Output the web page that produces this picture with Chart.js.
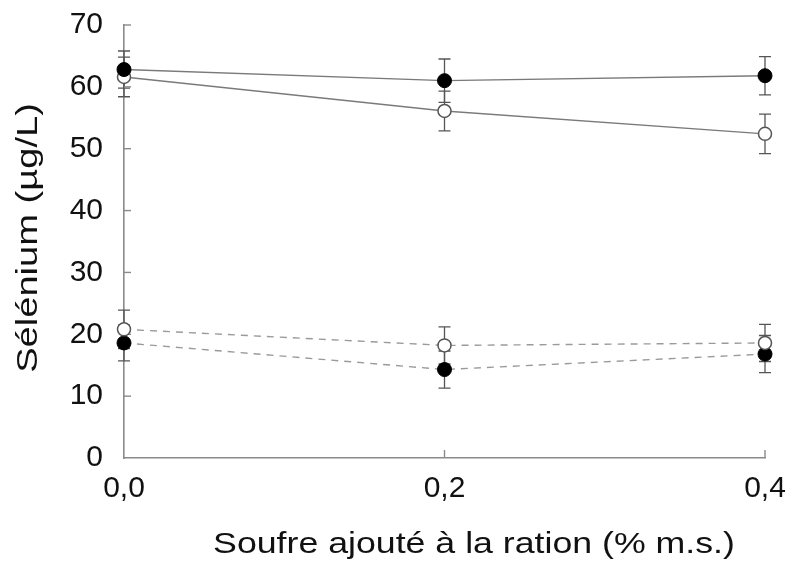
<!DOCTYPE html>
<html lang="fr">
<head>
    <meta charset="UTF-8">
    <title>Sélénium</title>
    <script src="https://cdn.jsdelivr.net/npm/chart.js"></script>
    <style>
        body { margin: 0; background: #fff; }
    </style>
</head>
<body>
    <div style="width: 788px; height: 562px;">
        <canvas id="seChart" width="788" height="562"></canvas>
    </div>

    <script>
        // Soufre ajouté (% m.s.)
        const doses = [0, 0.2, 0.4];
        const yTicks = [0, 10, 20, 30, 40, 50, 60, 70];

        // Series values (µg/L) and standard errors
        const filledSolid = [62.8, 61.0, 61.8];
        const filledSolidErr = [3.0, 3.5, 3.1];
        const openSolid = [61.6, 56.1, 52.4];
        const openSolidErr = [3.2, 3.2, 3.2];
        const openDashed = [20.8, 18.2, 18.6];
        const openDashedErr = [3.1, 3.0, 3.0];
        const filledDashed = [18.6, 14.3, 16.8];
        const filledDashedErr = [2.9, 3.0, 3.0];

        const xTitle = 'Soufre ajouté à la ration (% m.s.)';
        const yTitle = 'Sélénium (µg/L)';

        const font = "'Liberation Sans', Arial, Helvetica, sans-serif";
        const axisGrey = '#8a8a8a';

        function pts(values) {
            return doses.map((d, i) => ({ x: d, y: values[i] }));
        }

        function series(values, errors, filled, dashed) {
            return {
                data: pts(values),
                errors: errors,
                borderColor: dashed ? '#9a9a9a' : '#7a7a7a',
                borderWidth: 1.4,
                borderDash: dashed ? [7, 6] : [],
                pointRadius: filled ? 7 : 6.5,
                pointBackgroundColor: filled ? '#000' : '#fff',
                pointBorderColor: filled ? '#000' : '#555',
                pointBorderWidth: filled ? 1 : 1.5,
                tension: 0,
                clip: false
            };
        }

        // Error bars, inward axis ticks and the (wide) axis titles
        const extras = {
            id: 'extras',
            beforeDatasetsDraw(chart) {
                const ctx = chart.ctx;
                const xs = chart.scales.x, ys = chart.scales.y;
                ctx.save();
                ctx.strokeStyle = '#555';
                ctx.lineWidth = 1.3;
                chart.data.datasets.forEach(ds => {
                    ds.data.forEach((p, i) => {
                        const e = ds.errors[i];
                        const px = xs.getPixelForValue(p.x);
                        const top = ys.getPixelForValue(p.y + e);
                        const bot = ys.getPixelForValue(p.y - e);
                        ctx.beginPath();
                        ctx.moveTo(px, top); ctx.lineTo(px, bot);
                        ctx.moveTo(px - 6, top); ctx.lineTo(px + 6, top);
                        ctx.moveTo(px - 6, bot); ctx.lineTo(px + 6, bot);
                        ctx.stroke();
                    });
                });
                // inward ticks
                ctx.strokeStyle = axisGrey;
                ctx.lineWidth = 1.4;
                const left = chart.chartArea.left, bottom = chart.chartArea.bottom;
                yTicks.slice(1).forEach(v => {
                    const py = ys.getPixelForValue(v);
                    ctx.beginPath();
                    ctx.moveTo(left, py); ctx.lineTo(left + 7, py);
                    ctx.stroke();
                });
                doses.slice(1).forEach(v => {
                    const px = xs.getPixelForValue(v);
                    ctx.beginPath();
                    ctx.moveTo(px, bottom); ctx.lineTo(px, bottom - 8);
                    ctx.stroke();
                });
                ctx.restore();
            },
            afterDraw(chart) {
                const ctx = chart.ctx;
                ctx.save();
                ctx.fillStyle = '#111';
                ctx.font = '30px ' + font;
                ctx.textAlign = 'center';
                ctx.textBaseline = 'middle';
                // x title
                ctx.save();
                ctx.translate(474, 545);
                ctx.scale(1.19, 1);
                ctx.fillText(xTitle, 0, 0);
                ctx.restore();
                // y title
                ctx.save();
                ctx.translate(29, 238);
                ctx.rotate(-Math.PI / 2);
                ctx.scale(1.27, 1);
                ctx.fillText(yTitle, 0, 0);
                ctx.restore();
                ctx.restore();
            }
        };

        const ctx = document.getElementById('seChart').getContext('2d');
        new Chart(ctx, {
            type: 'line',
            data: {
                datasets: [
                    series(filledSolid, filledSolidErr, true, false),
                    series(openSolid, openSolidErr, false, false),
                    series(openDashed, openDashedErr, false, true),
                    series(filledDashed, filledDashedErr, true, true)
                ]
            },
            options: {
                responsive: false,
                animation: false,
                layout: { padding: { top: 25, right: 23, left: 0, bottom: 0 } },
                plugins: {
                    legend: { display: false },
                    tooltip: { enabled: false }
                },
                scales: {
                    x: {
                        type: 'linear',
                        min: 0,
                        max: 0.4,
                        afterFit: s => { s.height = 104; s.paddingLeft = 0; s.paddingRight = 0; },
                        afterBuildTicks: s => { s.ticks = doses.map(v => ({ value: v })); },
                        grid: { display: true, drawOnChartArea: false, drawTicks: false },
                        border: { color: axisGrey, width: 1.6 },
                        ticks: {
                            padding: 13,
                            color: '#111',
                            font: { family: font, size: 30 },
                            callback: v => v.toFixed(1).replace('.', ',')
                        }
                    },
                    y: {
                        min: 0,
                        max: 70,
                        afterFit: s => { s.width = 124; s.paddingTop = 0; s.paddingBottom = 0; },
                        afterBuildTicks: s => { s.ticks = yTicks.map(v => ({ value: v })); },
                        grid: { display: true, drawOnChartArea: false, drawTicks: false },
                        border: { color: axisGrey, width: 1.6 },
                        ticks: {
                            padding: 21,
                            color: '#111',
                            font: { family: font, size: 30 }
                        }
                    }
                }
            },
            plugins: [extras]
        });
    </script>
</body>
</html>
